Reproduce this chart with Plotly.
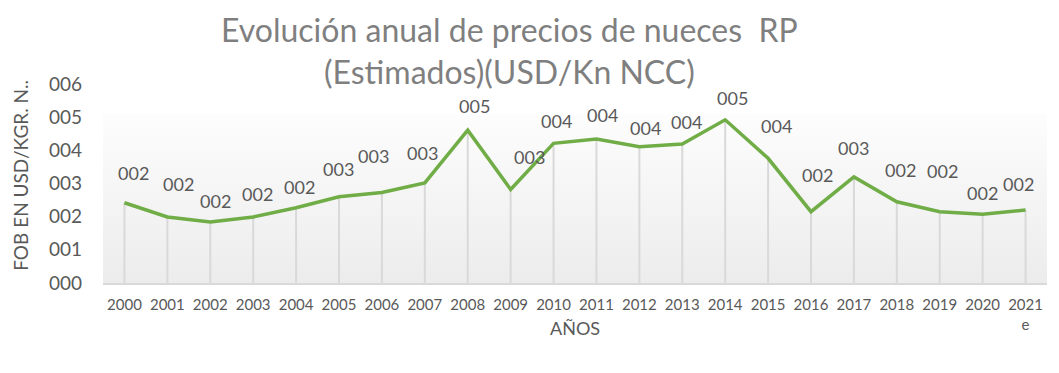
import plotly.graph_objects as go

years = ["2000", "2001", "2002", "2003", "2004", "2005", "2006", "2007", "2008", "2009", "2010",
         "2011", "2012", "2013", "2014", "2015", "2016", "2017", "2018", "2019", "2020", "2021<br>e"]
prices = [2.42, 1.99, 1.84, 1.99, 2.27, 2.60, 2.73, 3.02, 4.61, 2.82, 4.21,
          4.34, 4.11, 4.19, 4.92, 3.76, 2.15, 3.20, 2.45, 2.15, 2.07, 2.20]
y_ticks = [0, 1, 2, 3, 4, 5, 6]

# label placement offsets (pixels), style only
label_dx = [9, 11, 5, 4, 3, -1, -8, -2, 7, 19, 3, 6, 6, 4, 7, 8, 6, 0, 4, 3, 0, -7]
label_dy = [30, 33, 21, 23, 21, 28, 36, 30, 24, 32, 22, 24, 19, 22, 22, 32, 37, 29, 32, 41, 21, 26]

FONT = "Lato"
GRAY = "#595959"
GREEN = "#70ad47"

x = list(range(len(years)))
n = len(years)

fig = go.Figure()

# plot-area background gradient
fig.add_trace(go.Scatter(
    x=[-0.5, n - 0.5], y=[5.1, 5.1], mode="lines", line=dict(width=0),
    fill="tozeroy",
    fillgradient=dict(type="vertical", colorscale=[[0, "#ececec"], [1, "#fdfdfd"]]),
    hoverinfo="skip", showlegend=False,
))

# drop lines
fig.add_trace(go.Scatter(
    x=x, y=prices, mode="markers", marker=dict(size=1, opacity=0),
    error_y=dict(type="data", symmetric=False, array=[0] * n, arrayminus=prices,
                 color="#d9d9d9", thickness=2, width=0),
    hoverinfo="skip", showlegend=False,
))

fig.add_trace(go.Scatter(
    x=x, y=prices, mode="lines", line=dict(color=GREEN, width=3.5),
    showlegend=False,
))

for i, v in enumerate(prices):
    fig.add_annotation(
        x=i, y=v, text=f"{round(v):03d}", showarrow=False,
        xshift=label_dx[i], yshift=label_dy[i],
        font=dict(family=FONT, size=18, color=GRAY),
    )

# title (two lines)
fig.add_annotation(
    xref="paper", yref="paper", x=0.431, y=1.166, xanchor="center", yanchor="middle",
    text="Evolución anual de precios de nueces  RP<br>(Estimados)(USD/Kn NCC)",
    showarrow=False, align="center",
    font=dict(family=FONT, size=32, color="#7f7f7f"),
)

# x-axis title
fig.add_annotation(
    xref="paper", yref="paper", x=0.5, y=-0.226, xanchor="center", yanchor="middle",
    text="AÑOS", showarrow=False,
    font=dict(family=FONT, size=18, color=GRAY),
)

# y-axis title
fig.add_annotation(
    xref="paper", yref="paper", x=-0.087, y=0.543, xanchor="center", yanchor="middle",
    text="FOB EN USD/KGR. N..", showarrow=False, textangle=-90,
    font=dict(family=FONT, size=19, color=GRAY),
)

fig.update_layout(
    width=1043, height=357,
    margin=dict(l=94.5, r=3.5, t=76, b=82),
    paper_bgcolor="white", plot_bgcolor="white",
    font=dict(family=FONT, color=GRAY),
    xaxis=dict(
        range=[-0.5, n - 0.5], tickmode="array", tickvals=x, ticktext=years,
        showgrid=False, zeroline=False, showline=True, linecolor="#d9d9d9", linewidth=2,
        ticks="", ticklabelstandoff=7,
        tickfont=dict(family=FONT, size=15, color=GRAY), automargin=False,
    ),
    yaxis=dict(
        range=[0, 6], tickmode="array", tickvals=y_ticks,
        ticktext=[f"{t:03d}" for t in y_ticks],
        showgrid=False, zeroline=False, showline=False, ticks="", automargin=False,
        ticklabelstandoff=20,
        tickfont=dict(family=FONT, size=19, color=GRAY),
    ),
)

fig.write_html("out.html")
